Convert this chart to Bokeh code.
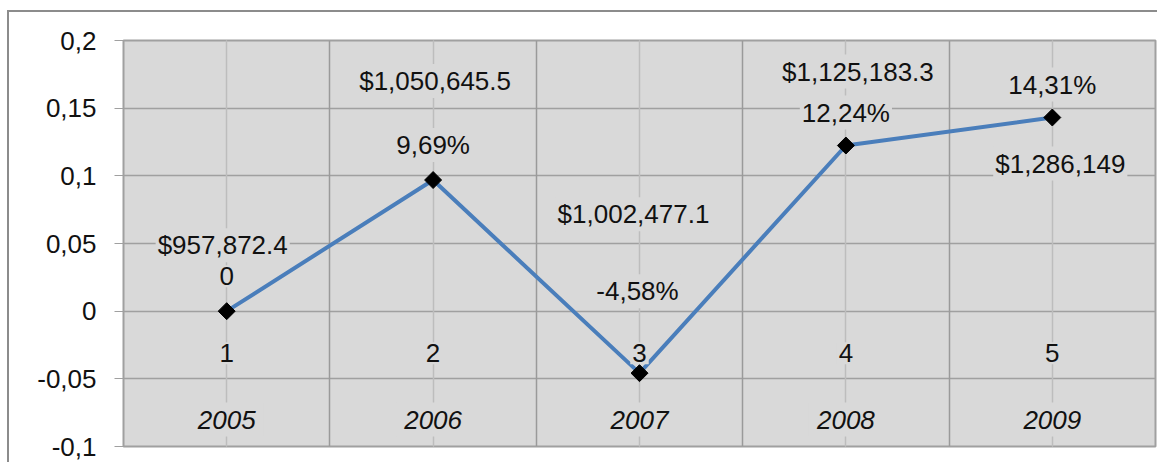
import math
from bokeh.plotting import figure
from bokeh.models import (Range1d, FixedTicker, CustomJSTickFormatter, Grid,
                          ColumnDataSource)
from bokeh.core.properties import value
from bokeh.embed import file_html
from bokeh.resources import INLINE

# ---- data ----
years = ["2005", "2006", "2007", "2008", "2009"]
growth = [0.0, 0.0969, -0.0458, 0.1224, 0.1431]
growth_labels = ["0", "9,69%", "-4,58%", "12,24%", "14,31%"]
revenue_labels = ["$957,872.4", "$1,050,645.5", "$1,002,477.1", "$1,125,183.3", "$1,286,149"]
index_labels = ["1", "2", "3", "4", "5"]
y_ticks = [-0.1, -0.05, 0.0, 0.05, 0.1, 0.15, 0.2]

# ---- label placement (styling, in screen pixels) ----
growth_dx = [0, 0, -2, 0, 0]
growth_dy = [-35, -35, -82, -33, -33]
revenue_dx = [-4, 2, -6, 12, 8]
revenue_dy = [-66, -99, -159, -74, 46]

n = len(years)
xs = list(range(1, n + 1))
FONT = "Liberation Sans"
FS = "26px"
BG = "#d9d9d9"

p = figure(width=1150, height=452, output_backend="svg", toolbar_location=None,
           x_range=Range1d(0.5, n + 0.5), y_range=Range1d(y_ticks[0], y_ticks[-1]),
           x_axis_location=None,
           min_border_left=114, min_border_right=4, min_border_top=28, min_border_bottom=18)
p.styles = {"border-left": "2px solid #8c8c8c", "border-top": "2px solid #8c8c8c",
            "margin-left": "7px", "margin-top": "10px"}

p.background_fill_color = BG
p.border_fill_color = "white"
p.outline_line_color = "#a0a0a0"
p.outline_line_width = 2

# y axis
p.yaxis.ticker = FixedTicker(ticks=y_ticks)
p.yaxis.formatter = CustomJSTickFormatter(code="""
    var v = Math.round(tick * 100) / 100;
    return String(v).replace('.', ',');
""")
p.yaxis.axis_line_color = "#a0a0a0"
p.yaxis.axis_line_width = 1
p.yaxis.major_tick_line_color = "#a0a0a0"
p.yaxis.major_tick_out = 9
p.yaxis.major_tick_in = 0
p.yaxis.minor_tick_line_color = None
p.yaxis.major_label_standoff = 18
p.yaxis.major_label_text_font = FONT
p.yaxis.major_label_text_font_size = FS
p.yaxis.major_label_text_color = "#111111"

p.ygrid.ticker = FixedTicker(ticks=y_ticks)
p.ygrid.grid_line_color = "#a0a0a0"
p.ygrid.grid_line_width = 1.5

vgrid = Grid(dimension=0,
             ticker=FixedTicker(ticks=[i + 0.5 for i in range(n + 1)], minor_ticks=xs),
             grid_line_color="#9a9a9a", grid_line_width=1.5,
             minor_grid_line_color="#bdbdbd", minor_grid_line_width=1.5)
p.add_layout(vgrid)

# series line and markers
p.line(xs, growth, line_color="#4a7ebb", line_width=4)
p.scatter(xs, growth, marker="square", angle=math.pi / 4, size=12,
          fill_color="black", line_color="black")

lbl_kw = dict(text_font=value(FONT), text_font_size=FS, text_color="#111111",
              text_align="center", text_baseline="middle",
              background_fill_color=BG, padding=2)

src_g = ColumnDataSource(dict(x=xs, y=growth, t=growth_labels, dx=growth_dx, dy=growth_dy))
p.text(x="x", y="y", text="t", x_offset="dx", y_offset="dy", source=src_g, **lbl_kw)

src_r = ColumnDataSource(dict(x=xs, y=growth, t=revenue_labels, dx=revenue_dx, dy=revenue_dy))
p.text(x="x", y="y", text="t", x_offset="dx", y_offset="dy", source=src_r, **lbl_kw)

src_i = ColumnDataSource(dict(x=xs, y=[0.0] * n, t=index_labels))
p.text(x="x", y="y", text="t", y_offset=42, source=src_i, **lbl_kw)

src_y = ColumnDataSource(dict(x=xs, y=[y_ticks[0]] * n, t=years))
p.text(x="x", y="y", text="t", y_offset=-27, source=src_y,
       text_font_style="italic", **{**lbl_kw, "padding": 8})

open("out.html", "w").write(file_html(p, INLINE))
